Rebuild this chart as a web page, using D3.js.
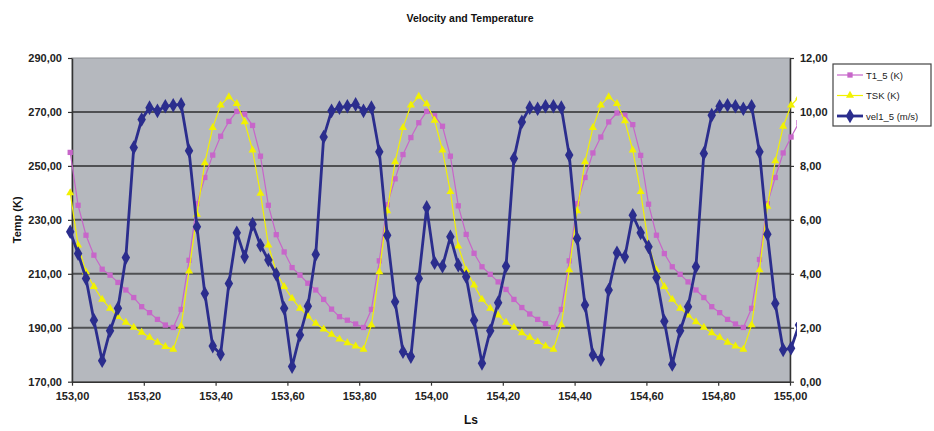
<!DOCTYPE html>
<html>
<head>
<meta charset="utf-8">
<script src="https://cdn.jsdelivr.net/npm/d3@7"></script>
<style>
  html, body { margin: 0; padding: 0; background: #ffffff; }
  svg { display: block; }
  text { font-family: "Liberation Sans", Arial, sans-serif; }
</style>
</head>
<body>
<svg id="chart" width="934" height="431"></svg>
<script>
// Solar longitude (Ls) of each hourly sample
const ls = [
  152.995, 153.017, 153.039, 153.061, 153.084, 153.106, 153.128, 153.150, 153.172, 153.194,
  153.216, 153.238, 153.260, 153.282, 153.304, 153.326, 153.348, 153.370, 153.392, 153.414,
  153.437, 153.459, 153.481, 153.503, 153.525, 153.547, 153.569, 153.591, 153.613, 153.635,
  153.657, 153.679, 153.701, 153.723, 153.745, 153.767, 153.790, 153.812, 153.834, 153.856,
  153.878, 153.900, 153.922, 153.944, 153.966, 153.988, 154.010, 154.032, 154.054, 154.076,
  154.098, 154.120, 154.142, 154.165, 154.187, 154.209, 154.231, 154.253, 154.275, 154.297,
  154.319, 154.341, 154.363, 154.385, 154.407, 154.429, 154.451, 154.473, 154.495, 154.518,
  154.540, 154.562, 154.584, 154.606, 154.628, 154.650, 154.672, 154.694, 154.716, 154.738,
  154.760, 154.782, 154.804, 154.826, 154.848, 154.870, 154.893, 154.915, 154.937, 154.959,
  154.981, 155.003, 155.025
];

// Air temperature at the first level, T1_5 (K)
const t1_5 = [
  255.0, 235.4, 224.3, 216.9, 211.7, 209.5, 206.8, 204.0, 201.2, 197.8,
  195.6, 193.1, 191.0, 190.1, 196.8, 215.0, 236.0, 245.7, 254.0, 261.0,
  266.5, 270.2, 269.2, 265.0, 253.6, 235.4, 224.5, 218.1, 212.3, 209.5,
  206.5, 204.0, 200.5, 196.9, 194.1, 192.8, 191.4, 190.1, 196.8, 214.8,
  235.6, 245.2, 254.2, 260.5, 266.0, 270.2, 268.6, 264.7, 253.6, 235.2,
  224.6, 217.6, 212.6, 209.8, 207.0, 204.2, 200.5, 197.5, 195.1, 193.1,
  191.5, 190.1, 196.8, 214.8, 236.0, 245.7, 254.8, 260.7, 266.3, 269.6,
  268.8, 265.3, 253.9, 235.8, 224.3, 217.5, 212.6, 209.8, 207.0, 204.0,
  201.2, 197.8, 195.6, 193.1, 191.4, 190.1, 197.2, 215.3, 236.0, 245.7,
  254.8, 260.7, 266.0
];

// Surface skin temperature, TSK (K)
const tsk = [
  240.0, 220.6, 210.7, 205.2, 200.5, 197.2, 194.1, 192.0, 190.1, 188.3,
  186.4, 184.6, 183.0, 182.0, 190.6, 211.0, 232.0, 251.1, 264.2, 272.5,
  275.6, 273.1, 266.3, 255.8, 239.8, 220.6, 210.7, 205.2, 200.9, 197.2,
  194.3, 191.6, 189.5, 187.5, 185.8, 184.4, 183.2, 182.0, 191.0, 210.7,
  233.3, 251.5, 264.2, 272.5, 275.8, 273.0, 266.9, 255.8, 240.4, 220.2,
  211.4, 205.8, 200.5, 197.2, 194.7, 192.0, 190.1, 188.1, 186.4, 184.8,
  183.2, 182.0, 191.0, 211.4, 233.3, 251.5, 264.2, 272.5, 275.6, 273.1,
  266.7, 255.8, 240.4, 220.6, 211.4, 205.2, 200.5, 197.2, 194.7, 192.2,
  190.1, 188.1, 186.4, 184.6, 183.2, 182.0, 191.0, 211.4, 235.0, 251.8,
  264.6, 272.5, 275.5
];

// Wind speed at the first level, vel1_5 (m/s)
const vel1_5 = [
  5.56, 4.75, 3.83, 2.28, 0.78, 1.89, 2.72, 4.60, 8.68, 9.72,
  10.16, 10.04, 10.21, 10.25, 10.28, 8.56, 5.74, 3.27, 1.32, 1.02,
  3.64, 5.52, 4.63, 5.84, 5.06, 4.51, 3.98, 2.72, 0.56, 1.73,
  2.80, 4.72, 9.07, 10.04, 10.16, 10.21, 10.28, 10.04, 10.16, 8.52,
  5.43, 2.96, 1.11, 0.93, 3.83, 6.46, 4.41, 4.28, 5.37, 4.32,
  3.89, 2.28, 0.68, 1.89, 2.93, 4.28, 8.27, 9.63, 10.16, 10.12,
  10.21, 10.21, 10.16, 8.40, 5.31, 2.84, 0.99, 0.83, 3.40, 4.78,
  4.63, 6.17, 5.52, 5.00, 3.86, 2.24, 0.64, 1.89, 2.78, 4.26,
  8.46, 9.88, 10.21, 10.25, 10.21, 10.12, 10.21, 8.52, 5.47, 2.90,
  1.18, 1.24, 2.10
];

const xTicks = [153.0, 153.2, 153.4, 153.6, 153.8, 154.0, 154.2, 154.4, 154.6, 154.8, 155.0];
const tempTicks = [170, 190, 210, 230, 250, 270, 290];
const velTicks = [0, 2, 4, 6, 8, 10, 12];

const seriesNames = ["T1_5 (K)", "TSK (K)", "vel1_5 (m/s)"];

// ---- layout ----
const svg = d3.select("#chart");
const plot = { left: 72, right: 790, top: 58, bottom: 381.7 };

const x = d3.scaleLinear().domain([153, 155]).range([plot.left, plot.right]);
const yTemp = d3.scaleLinear().domain([170, 290]).range([plot.bottom, plot.top]);
const yVel = d3.scaleLinear().domain([0, 12]).range([plot.bottom, plot.top]);

const fmt = v => d3.format(".2f")(v).replace(".", ",");

const colors = { t1: "#c766c9", tsk: "#f2f200", vel: "#2b2d8d" };

// plot area
svg.append("rect")
  .attr("x", plot.left).attr("y", plot.top)
  .attr("width", plot.right - plot.left).attr("height", plot.bottom - plot.top)
  .attr("fill", "#b5b8be")
  .attr("stroke", "#8d8f93").attr("stroke-width", 1);

// horizontal gridlines
svg.append("g")
  .selectAll("line")
  .data(tempTicks.filter(t => t > 170 && t < 290))
  .join("line")
  .attr("x1", plot.left).attr("x2", plot.right)
  .attr("y1", d => yTemp(d)).attr("y2", d => yTemp(d))
  .attr("stroke", "#4f5053").attr("stroke-width", 2);

// axes
const axisStyle = g => {
  g.select(".domain").attr("stroke", "#333").attr("stroke-width", 1.5);
  g.selectAll(".tick line").attr("stroke", "#333").attr("stroke-width", 1.2);
  g.selectAll(".tick text")
    .attr("font-size", 11).attr("font-weight", "bold").attr("fill", "#222");
};

svg.append("g")
  .attr("transform", `translate(0,${plot.bottom})`)
  .call(d3.axisBottom(x).tickValues(xTicks).tickFormat(fmt).tickSizeInner(4).tickSizeOuter(0).tickPadding(7))
  .call(axisStyle);

svg.append("g")
  .attr("transform", `translate(${plot.left},0)`)
  .call(d3.axisLeft(yTemp).tickValues(tempTicks).tickFormat(fmt).tickSizeInner(4).tickSizeOuter(0).tickPadding(6))
  .call(axisStyle);

svg.append("g")
  .attr("transform", `translate(${plot.right},0)`)
  .call(d3.axisRight(yVel).tickValues(velTicks).tickFormat(fmt).tickSizeInner(4).tickSizeOuter(0).tickPadding(6))
  .call(axisStyle);

// titles
svg.append("text")
  .attr("x", 470).attr("y", 22).attr("text-anchor", "middle")
  .attr("font-size", 10.5).attr("font-weight", "bold").attr("fill", "#111")
  .text("Velocity and Temperature");

svg.append("text")
  .attr("x", 471).attr("y", 424).attr("text-anchor", "middle")
  .attr("font-size", 12).attr("font-weight", "bold").attr("fill", "#111")
  .text("Ls");

svg.append("text")
  .attr("transform", `translate(21,${(plot.top + plot.bottom) / 2}) rotate(-90)`)
  .attr("text-anchor", "middle")
  .attr("font-size", 11).attr("font-weight", "bold").attr("fill", "#111")
  .text("Temp (K)");

// series
svg.append("clipPath").attr("id", "clip")
  .append("rect").attr("x", 60).attr("y", 0).attr("width", 737).attr("height", 431);

const layer = svg.append("g").attr("clip-path", "url(#clip)");

const rows = ls.map((v, i) => ({ ls: v, t1: t1_5[i], tsk: tsk[i], vel: vel1_5[i] }));

const lineT1 = d3.line().x(d => x(d.ls)).y(d => yTemp(d.t1));
const lineTsk = d3.line().x(d => x(d.ls)).y(d => yTemp(d.tsk));
const lineVel = d3.line().x(d => x(d.ls)).y(d => yVel(d.vel));

const square = d3.symbol().type(d3.symbolSquare).size(28)();
const triangle = d3.symbol().type(d3.symbolTriangle).size(28)();
const diamond = d3.symbol().type(d3.symbolDiamond).size(62)();

function drawSeries(lineGen, key, yScale, color, width, shape) {
  layer.append("path")
    .datum(rows)
    .attr("d", lineGen)
    .attr("fill", "none")
    .attr("stroke", color)
    .attr("stroke-width", width)
    .attr("stroke-linejoin", "round");
  layer.append("g")
    .selectAll("path")
    .data(rows)
    .join("path")
    .attr("d", shape)
    .attr("transform", d => `translate(${x(d.ls)},${yScale(d[key])})`)
    .attr("fill", color);
}

drawSeries(lineT1, "t1", yTemp, colors.t1, 1.2, square);
drawSeries(lineTsk, "tsk", yTemp, colors.tsk, 1.2, triangle);
drawSeries(lineVel, "vel", yVel, colors.vel, 2.8, diamond);

// legend
const legend = svg.append("g").attr("transform", "translate(833,64)");
legend.append("rect")
  .attr("width", 98).attr("height", 62)
  .attr("fill", "#ffffff").attr("stroke", "#444").attr("stroke-width", 1.2);

const legendItems = [
  { name: seriesNames[0], color: colors.t1, w: 1.2, shape: square },
  { name: seriesNames[1], color: colors.tsk, w: 1.2, shape: triangle },
  { name: seriesNames[2], color: colors.vel, w: 2.8, shape: diamond }
];

const item = legend.selectAll("g.item")
  .data(legendItems)
  .join("g")
  .attr("class", "item")
  .attr("transform", (d, i) => `translate(0,${11 + i * 20.5})`);

item.append("line")
  .attr("x1", 4).attr("x2", 30).attr("y1", 0).attr("y2", 0)
  .attr("stroke", d => d.color).attr("stroke-width", d => d.w);
item.append("path")
  .attr("d", d => d.shape)
  .attr("transform", "translate(17,0)")
  .attr("fill", d => d.color);
item.append("text")
  .attr("x", 33).attr("y", 3.5)
  .attr("font-size", 9.5).attr("fill", "#222")
  .text(d => d.name);
</script>
</body>
</html>
